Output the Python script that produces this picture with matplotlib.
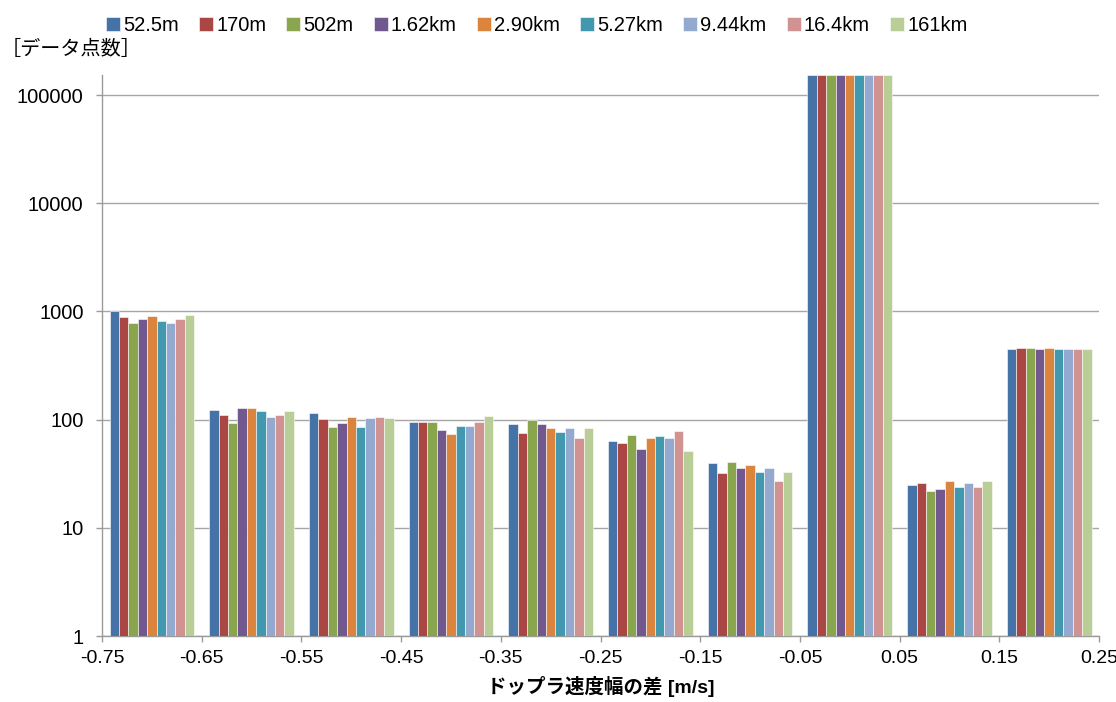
import numpy as np
import matplotlib
matplotlib.use("Agg")
import matplotlib.pyplot as plt
from matplotlib.ticker import FixedLocator, NullLocator

plt.rcParams["font.family"] = ["Liberation Sans", "Noto Sans CJK JP"]

# --- データ ---
bins = [-0.7, -0.6, -0.5, -0.4, -0.3, -0.2, -0.1, 0.0, 0.1, 0.2]
series = ["52.5m", "170m", "502m", "1.62km", "2.90km",
          "5.27km", "9.44km", "16.4km", "161km"]

c_525m = [1020, 122, 116, 96, 91, 63, 40, 153000, 25, 452]
c_170m = [880, 110, 101, 96, 75, 61, 32, 153000, 26, 464]
c_502m = [786, 93, 85, 96, 99, 72, 41, 153000, 22, 464]
c_162km = [844, 128, 93, 81, 91, 54, 36, 153000, 23, 452]
c_290km = [905, 128, 106, 74, 83, 67, 38, 153000, 27, 464]
c_527km = [820, 119, 85, 87, 77, 70, 33, 153000, 24, 452]
c_944km = [786, 106, 103, 87, 83, 68, 36, 153000, 26, 452]
c_164km = [844, 110, 106, 96, 68, 79, 27, 153000, 24, 452]
c_161km = [925, 119, 103, 108, 83, 51, 33, 153000, 27, 452]
counts = [c_525m, c_170m, c_502m, c_162km, c_290km,
          c_527km, c_944km, c_164km, c_161km]

colors = ["#4572A7", "#AA4643", "#89A54E", "#71588F", "#DB843D",
          "#4198AF", "#93A9CF", "#D19392", "#B9CD96"]

xticks = [-0.75, -0.65, -0.55, -0.45, -0.35, -0.25, -0.15, -0.05, 0.05, 0.15, 0.25]
yticks = [1, 10, 100, 1000, 10000, 100000]

# --- 図 ---
fig = plt.figure(figsize=(11.16, 7.02), dpi=100)
ax = fig.add_axes([0.0914, 0.094, 0.8934, 0.799])

w = 0.1 / (9 + 1.6)
x = np.array(bins)
for i, (name, vals) in enumerate(zip(series, counts)):
    ax.bar(x + (i - 4) * w, vals, width=w, color=colors[i], label=name,
           edgecolor="white", linewidth=0.4, zorder=3)

ax.set_yscale("log")
ax.set_ylim(1, 1.53e5)
ax.set_xlim(-0.75, 0.25)
ax.yaxis.set_major_locator(FixedLocator(yticks))
ax.yaxis.set_minor_locator(NullLocator())
ax.set_yticklabels([str(v) for v in yticks])
ax.set_xticks(xticks)
ax.set_xticklabels([f"{v:.2f}" for v in xticks])

ax.grid(axis="y", color="#A6A6A6", linewidth=1.0, zorder=0)
for s in ("top", "right"):
    ax.spines[s].set_visible(False)
for s in ("left", "bottom"):
    ax.spines[s].set_color("#9A9A9A")
    ax.spines[s].set_linewidth(1.0)
ax.tick_params(axis="both", colors="#9A9A9A", length=4.3, width=1.0,
               labelcolor="black")
ax.tick_params(axis="y", labelsize=14.5, pad=9)
ax.tick_params(axis="x", labelsize=14, pad=6)

ax.set_xlabel("ドップラ速度幅の差 [m/s]", fontsize=14, fontweight="bold",
              labelpad=6)
fig.text(0.001, 0.929, "［データ点数］", fontsize=14.5, ha="left", va="center")

fig.legend(loc="center", bbox_to_anchor=(0.481, 0.963), ncol=9,
           frameon=False, fontsize=14.5, handlelength=0.7, handleheight=0.7,
           handletextpad=0.15, columnspacing=1.0, borderaxespad=0)

fig.savefig("out.png", dpi=100)
